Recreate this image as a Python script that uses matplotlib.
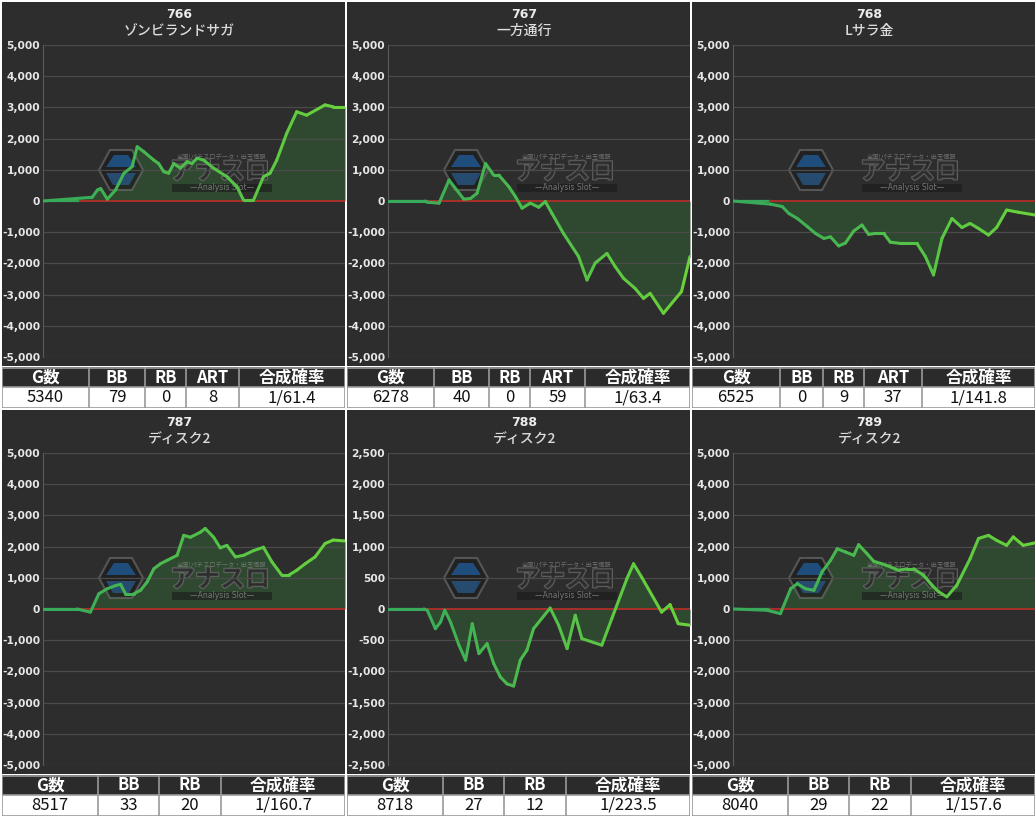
import numpy as np
import matplotlib
matplotlib.use("Agg")
import matplotlib.pyplot as plt
from matplotlib.collections import LineCollection
from matplotlib.patches import Rectangle, Polygon
from matplotlib.colors import to_rgb
from matplotlib.ticker import FuncFormatter, MultipleLocator
import matplotlib.patheffects as pe

plt.rcParams['font.family'] = ['Noto Sans CJK JP', 'DejaVu Sans']
plt.rcParams['axes.unicode_minus'] = False

W, H = 1035, 818

# ---- data -------------------------------------------------------------
machine_ids = ["766", "767", "768", "787", "788", "789"]
machine_names = ["ゾンビランドサガ", "一方通行", "Lサラ金", "ディスク2", "ディスク2", "ディスク2"]
y_limits = [5000, 5000, 5000, 5000, 2500, 5000]

# x = progress through the day (% of games), y = difference in medals
x_766 = [0, 16.3, 18.0, 19.1, 21.3, 24.0, 26.8, 29.5, 31.2, 33.4, 36.7, 38.3, 40.0, 41.6, 43.3,
         45.5, 47.7, 49.3, 51.0, 53.2, 56.5, 60.9, 64.2, 66.4, 69.7, 73.0, 75.2, 77.4, 80.7,
         84.0, 87.3, 93.4, 96.1, 100]
y_766 = [0, 120, 350, 400, 60, 350, 890, 1100, 1740, 1580, 1310, 1200, 940, 890, 1200,
         1050, 1260, 1200, 1370, 1310, 1050, 780, 460, 30, 30, 780, 890, 1310, 2170,
         2860, 2750, 3080, 3020, 3020]

x_767 = [0, 12.4, 13.0, 16.9, 20.2, 25.1, 27.3, 29.5, 32.3, 35.0, 36.7, 40.0, 42.2, 44.4, 47.1,
         49.9, 52.1, 54.3, 58.1, 63.1, 65.9, 68.6, 72.5, 75.2, 78.0, 81.8, 84.6, 86.8, 91.2,
         97.2, 100]
y_767 = [0, 0, -40, -70, 670, 60, 80, 250, 1200, 830, 830, 460, 140, -230, -70,
         -200, -20, -400, -1040, -1780, -2530, -1990, -1680, -2100, -2480, -2800, -3120, -2960, -3600,
         -2900, -1780]

x_768 = [0, 12.4, 16.3, 18.5, 21.3, 24.6, 27.3, 30.1, 32.3, 35.0, 37.2, 40.0, 42.7, 44.9, 47.1,
         49.9, 52.1, 55.4, 60.9, 63.7, 66.4, 69.2, 72.5, 75.8, 78.5, 81.3, 84.6, 87.3, 90.6,
         94.5, 100]
y_768 = [0, -100, -180, -400, -560, -820, -1040, -1200, -1150, -1440, -1350, -960, -770, -1070, -1040,
         -1040, -1320, -1360, -1360, -1780, -2370, -1200, -560, -850, -720, -880, -1090, -850, -290,
         -360, -450]

x_787 = [0, 11.3, 15.7, 18.5, 21.3, 24.0, 25.7, 27.3, 30.1, 32.3, 34.5, 36.7, 38.9, 41.1, 44.4,
         46.6, 48.8, 52.1, 53.7, 56.5, 58.7, 60.9, 63.7, 66.4, 69.7, 73.0, 75.8, 79.1, 81.3,
         84.0, 86.8, 90.1, 93.4, 96.1, 100]
y_787 = [0, 0, -100, 490, 650, 750, 790, 490, 490, 600, 870, 1290, 1450, 1560, 1720,
         2360, 2300, 2460, 2580, 2300, 1960, 2040, 1670, 1720, 1870, 1980, 1510, 1080, 1080,
         1240, 1450, 1670, 2100, 2210, 2180]

x_788 = [0, 11.9, 13.0, 15.7, 17.4, 18.8, 20.7, 23.5, 25.7, 27.9, 30.1, 32.8, 35.0, 37.2, 39.4,
         41.6, 43.8, 46.0, 48.2, 53.7, 56.5, 59.3, 62.0, 64.2, 70.8, 74.1, 79.1, 81.3, 84.0,
         90.6, 93.4, 96.1, 100]
y_788 = [0, 0, -20, -315, -210, -20, -210, -580, -820, -235, -715, -555, -875, -1090, -1200,
         -1235, -820, -660, -315, 15, -260, -635, -100, -475, -580, -155, 485, 725, 510,
         -50, 70, -235, -260]

x_789 = [0, 11.3, 15.7, 19.1, 21.3, 24.0, 26.8, 29.5, 32.3, 34.5, 37.2, 40.0, 41.6, 44.4, 46.6,
         49.3, 52.1, 54.8, 57.6, 59.8, 63.1, 65.9, 68.1, 70.8, 74.1, 78.5, 81.3, 84.6, 87.3,
         90.6, 92.8, 96.1, 100]
y_789 = [0, -40, -150, 650, 810, 650, 600, 1190, 1560, 1930, 1830, 1720, 2060, 1770, 1530,
         1450, 1350, 1240, 1290, 1290, 1080, 760, 550, 390, 760, 1610, 2260, 2360, 2200,
         2040, 2310, 2040, 2120]

series_x = [x_766, x_767, x_768, x_787, x_788, x_789]
series_y = [y_766, y_767, y_768, y_787, y_788, y_789]

headers_art = ["G数", "BB", "RB", "ART", "合成確率"]
headers_plain = ["G数", "BB", "RB", "合成確率"]
table_766 = ["5340", "79", "0", "8", "1/61.4"]
table_767 = ["6278", "40", "0", "59", "1/63.4"]
table_768 = ["6525", "0", "9", "37", "1/141.8"]
table_787 = ["8517", "33", "20", "1/160.7"]
table_788 = ["8718", "27", "12", "1/223.5"]
table_789 = ["8040", "29", "22", "1/157.6"]
table_rows = [table_766, table_767, table_768, table_787, table_788, table_789]
table_heads = [headers_art, headers_art, headers_art, headers_plain, headers_plain, headers_plain]

# ---- layout (pixels) ---------------------------------------------------
col_x = [2, 347, 692]
row_y = [2, 410]
PW, PH = 343, 406
col_edges = [
    [0, 87, 143, 184, 237, 343],
    [0, 87, 142, 183, 238, 343],
    [0, 88, 131, 172, 230, 343],
    [0, 96, 157, 219, 343],
    [0, 96, 157, 219, 343],
    [0, 96, 157, 219, 343],
]

BG = "#2d2d2d"
GRID = "#4b4b4b"
C_LEFT = np.array(to_rgb("#35a85c"))
C_RIGHT = np.array(to_rgb("#6bd33a"))
FILL = "#2f4d31"
ZERO_RED = "#a8302a"


def frac(x, y, w, h):
    return [x / W, 1 - (y + h) / H, w / W, h / H]


fig = plt.figure(figsize=(W / 100, H / 100), dpi=100)
fig.patch.set_facecolor("white")

for i in range(6):
    lx = col_x[i % 3]
    ty = row_y[i // 3]

    # panel background
    bg = fig.add_axes(frac(lx, ty, PW, 364))
    bg.set_facecolor(BG)
    bg.set_xticks([])
    bg.set_yticks([])
    for s in bg.spines.values():
        s.set_visible(False)
    bg.set_zorder(0)

    fig.text((lx + PW / 2 + 6) / W, 1 - (ty + 12) / H, machine_ids[i], color="#ececec",
             fontsize=9, fontweight="bold", ha="center", va="center", family="DejaVu Sans")
    fig.text((lx + PW / 2 + 6) / W, 1 - (ty + 29) / H, machine_names[i], color="#dcdcdc",
             fontsize=10, fontweight="medium", ha="center", va="center")

    # chart
    lim = y_limits[i]
    ax = fig.add_axes(frac(lx + 41, ty + 43, 302, 312))
    ax.set_facecolor("none")
    ax.set_zorder(1)
    ax.set_xlim(0, 100)
    ax.set_ylim(-lim, lim)
    step = lim / 5
    ax.yaxis.set_major_locator(MultipleLocator(step))
    ax.yaxis.set_major_formatter(FuncFormatter(lambda v, p: f"{v:,.0f}"))
    ax.tick_params(axis="y", length=0, pad=2, labelsize=7.7, labelcolor="#e6e6e6")
    for lbl in ax.get_yticklabels():
        lbl.set_fontweight("bold")
        lbl.set_family("DejaVu Sans")
    ax.set_xticks([])
    for s in ["top", "right", "bottom"]:
        ax.spines[s].set_visible(False)
    ax.spines["left"].set_color("#5a5a5a")
    ax.spines["left"].set_linewidth(0.8)
    for v in np.arange(-lim, lim + 1, step):
        if v != 0:
            ax.axhline(v, color=GRID, lw=0.9, zorder=2)

    xs = np.array(series_x[i], dtype=float)
    ys = np.array(series_y[i], dtype=float)
    ax.fill_between(xs, ys, 0, color=FILL, alpha=0.9, lw=0, zorder=1)

    # watermark logo
    def axp(px, py):
        return ((px - 41) / 302, 1 - (py - 43) / 312)
    hx, hy = 119, 168
    hexv = [axp(hx - 22, hy), axp(hx - 11, hy - 20), axp(hx + 11, hy - 20),
            axp(hx + 22, hy), axp(hx + 11, hy + 20), axp(hx - 11, hy + 20)]
    ax.add_patch(Polygon(hexv, closed=True, transform=ax.transAxes, facecolor="#1c1c1c",
                         edgecolor="#6a6a6a", lw=1.5, alpha=0.7, zorder=1.5))
    top = [axp(hx - 15, hy - 3), axp(hx - 7, hy - 15), axp(hx + 7, hy - 15), axp(hx + 15, hy - 3)]
    ax.add_patch(Polygon(top, closed=True, transform=ax.transAxes, facecolor="#1f5c9c",
                         edgecolor="none", alpha=0.75, zorder=1.6))
    bot = [axp(hx - 15, hy + 3), axp(hx + 15, hy + 3), axp(hx + 8, hy + 15), axp(hx - 8, hy + 15)]
    ax.add_patch(Polygon(bot, closed=True, transform=ax.transAxes, facecolor="#2a5d8f",
                         edgecolor="none", alpha=0.7, zorder=1.6))
    ax.text(*axp(220, 155), "全国!パチスロデータ・出玉情報", transform=ax.transAxes, fontsize=4.5,
            color="#8a8a8a", alpha=0.7, ha="center", va="center", zorder=1.7)
    ax.text(*axp(218, 170), "アナスロ", transform=ax.transAxes, fontsize=18, fontweight="bold",
            color="#2a2a2a", alpha=0.75, ha="center", va="center", zorder=1.7,
            path_effects=[pe.withStroke(linewidth=1.5, foreground="#707070")])
    x0, y0 = axp(170, 190)
    x1, y1 = axp(270, 182)
    ax.add_patch(Rectangle((x0, y0), x1 - x0, y1 - y0, transform=ax.transAxes,
                           facecolor="#1a1a1a", alpha=0.6, lw=0, zorder=1.6))
    ax.text(*axp(220, 186), "—Analysis Slot—", transform=ax.transAxes, fontsize=5.5,
            color="#8a8a8a", alpha=0.8, ha="center", va="center", zorder=1.7,
            family="DejaVu Sans")

    # zero line: green start, red for the rest
    ax.plot([0, 12.4], [0, 0], color="#3aa35a", lw=1.6, zorder=2.5)
    ax.axhline(0, xmin=0.124, xmax=1, color=ZERO_RED, lw=1.4, zorder=2.5)

    # line with left-to-right colour gradient
    pts = np.column_stack([xs, ys]).reshape(-1, 1, 2)
    segs = np.concatenate([pts[:-1], pts[1:]], axis=1)
    t = ((xs[:-1] + xs[1:]) / 2 / 100)[:, None]
    cols = C_LEFT * (1 - t) + C_RIGHT * t
    lc = LineCollection(segs, colors=cols, linewidths=2.2, capstyle="round",
                        joinstyle="round", zorder=3)
    ax.add_collection(lc)

    # table
    tb = fig.add_axes(frac(lx, ty + 365, PW, 41))
    tb.set_xlim(0, PW)
    tb.set_ylim(41, 0)
    tb.axis("off")
    edges = col_edges[i]
    tb.add_patch(Rectangle((0, 0), PW, 20, facecolor="#2b2b2b", edgecolor="none"))
    tb.add_patch(Rectangle((0, 20), PW, 21, facecolor="white", edgecolor="none"))
    for xe in edges:
        tb.plot([xe, xe], [0, 41], color="#9a9a9a", lw=1.2)
    for yy in [0.5, 20, 40.5]:
        tb.plot([0, PW], [yy, yy], color="#9a9a9a", lw=1.2)
    for j, (hd, val) in enumerate(zip(table_heads[i], table_rows[i])):
        cx = (edges[j] + edges[j + 1]) / 2
        tb.text(cx, 10.5, hd, color="white", fontsize=12, fontweight="bold",
                ha="center", va="center")
        tb.text(cx, 30.5, val, color="#111111", fontsize=12, ha="center", va="center")

fig.savefig("out.png", dpi=100, facecolor=fig.get_facecolor())
